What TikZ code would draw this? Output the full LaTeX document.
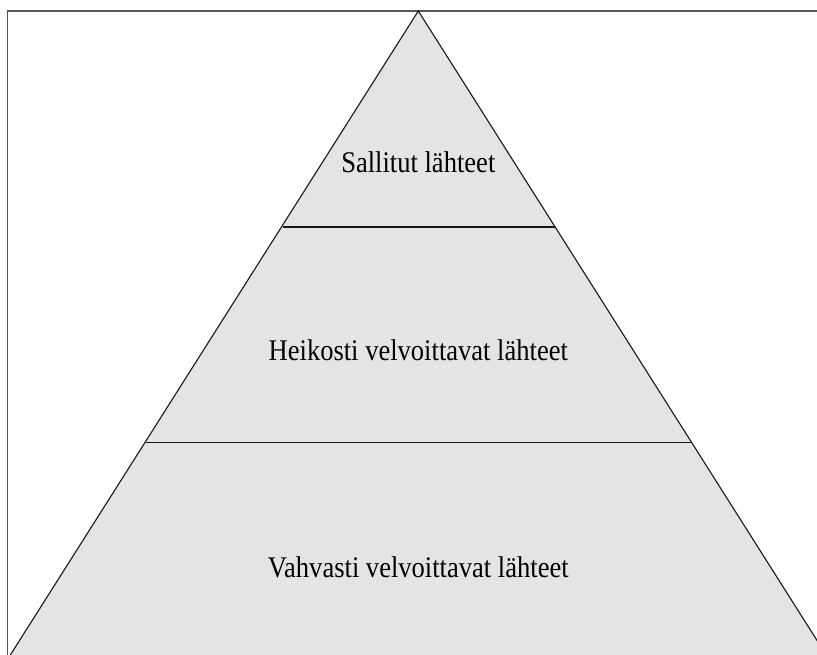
\documentclass[tikz,border=0pt]{standalone}
\usepackage{fontspec}
\setmainfont[FakeStretch=0.885]{Liberation Serif}
\usepackage{tikz}
\definecolor{pyramidgray}{RGB}{229,227,230}
\definecolor{framegray}{RGB}{85,85,85}

\begin{document}
\begin{tikzpicture}[x=0.03cm,y=-0.03cm]
\tikzstyle{level}=[anchor=base,font=\fontsize{25.6pt}{30pt}\selectfont,text=black]
\tikzstyle{edge}=[draw=black!90,line width=0.95pt]
\tikzstyle{divider}=[draw=black!90,line width=1.1pt]
\useasboundingbox (0,0) rectangle (817,655);
\clip (0,0) rectangle (817,655);
\draw[framegray,line width=1.5pt] (7.5,11) rectangle (840,680);

\coordinate (top) at (418.3,11);
\coordinate (base_left) at (4,665);
\coordinate (base_right) at (832.6,665);
\coordinate (upper_left) at (282.7,227);
\coordinate (upper_right) at (554.5,227);
\coordinate (lower_left) at (146,442.5);
\coordinate (lower_right) at (691.5,442.5);

\fill[pyramidgray] (top)--(base_right)--(base_left)--cycle;
\draw[edge] (base_left)--(top)--(base_right);
\draw[divider] (upper_left)--(upper_right);
\draw[divider] (lower_left)--(lower_right);

\node[level] (sallitut) at (418.3,172.7){Sallitut lähteet};
\node[level] (heikosti) at (418.3,360){Heikosti velvoittavat lähteet};
\node[level] (vahvasti) at (418.3,577){Vahvasti velvoittavat lähteet};
\end{tikzpicture}
\end{document}
